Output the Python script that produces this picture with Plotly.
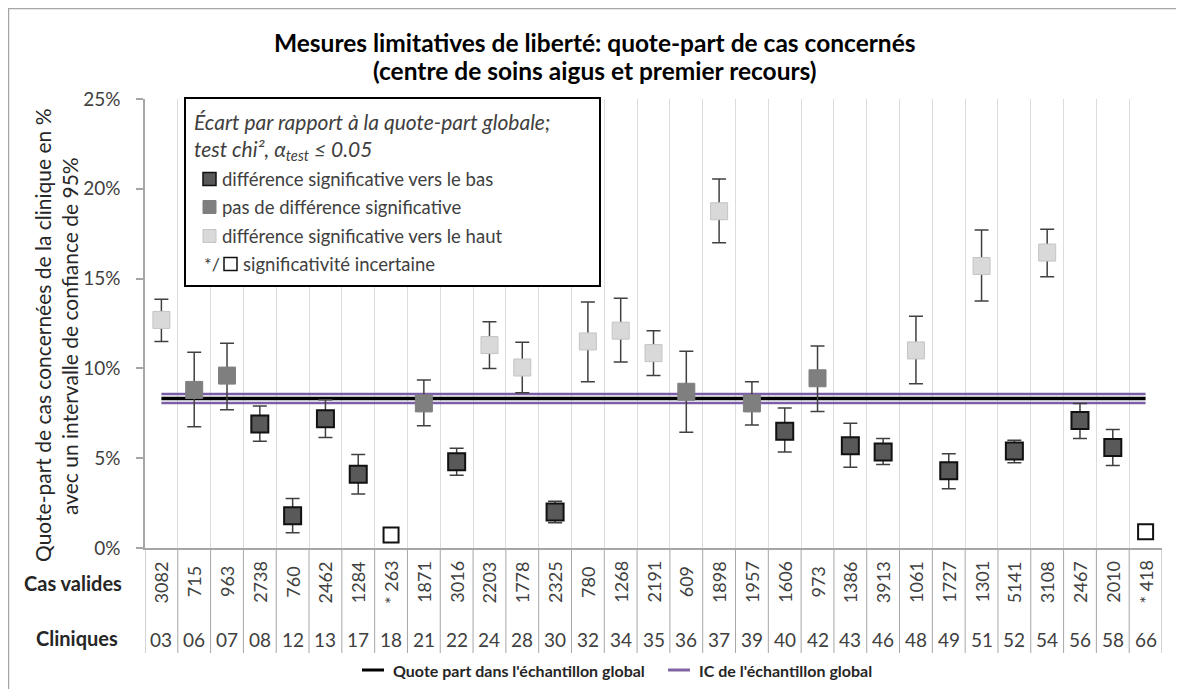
import plotly.graph_objects as go

# ---------------- data ----------------
clinics = ["03","06","07","08","12","13","17","18","21","22","24","28","30","32","34","35",
           "36","37","39","40","42","43","46","48","49","51","52","54","56","58","66"]
cases = ["3082","715","963","2738","760","2462","1284","* 263","1871","3016","2203","1778",
         "2325","780","1268","2191","609","1898","1957","1606","973","1386","3913","1061",
         "1727","1301","5141","3108","2467","2010","* 418"]
pct = [12.7, 8.8, 9.6, 6.9, 1.8, 7.2, 4.1, 0.72, 8.05, 4.8, 11.3, 10.05, 2.0, 11.5, 12.1, 10.85,
       8.7, 18.75, 8.05, 6.5, 9.45, 5.7, 5.35, 11.0, 4.3, 15.7, 5.4, 16.45, 7.1, 5.6, 0.9]
ci_hi = [13.85, 10.9, 11.4, 7.9, 2.75, 8.25, 5.2, None, 9.35, 5.55, 12.6, 11.45, 2.6, 13.7, 13.9, 12.1,
         10.95, 20.55, 9.25, 7.8, 11.25, 6.95, 6.1, 12.9, 5.25, 17.7, 6.0, 17.75, 8.05, 6.6, None]
ci_lo = [11.5, 6.75, 7.7, 5.95, 0.85, 6.15, 3.0, None, 6.8, 4.05, 10.0, 8.65, 1.4, 9.25, 10.35, 9.6,
         6.45, 17.0, 6.85, 5.35, 7.6, 4.5, 4.65, 9.15, 3.3, 13.75, 4.75, 15.1, 6.1, 4.6, None]
group = ["high","ns","ns","low","low","low","low","unc","ns","low","high","high","low","high","high","high",
         "ns","high","ns","low","ns","low","low","high","low","high","low","high","low","low","unc"]
global_rate = 8.32
global_ci = [8.07, 8.57]
y_ticks = [0, 5, 10, 15, 20, 25]

# ---------------- geometry helpers (page pixel coords) ----------------
PAGE_W, PAGE_H = 1184, 689
OFF = 8                      # default body margin of the html page
W_FIG, H_FIG = PAGE_W - OFF, PAGE_H - OFF
L, R, T, B = 145, 1162, 99, 548
PW, PH = R - L, B - T

def px(x):
    return (x - L) / PW

def py(y):
    return (B - y) / PH

FONT = "Lato"
TXT = "#404040"
DARK = "#262626"

styles = {
    "low":  dict(fill="#595959", line="#111111", lw=2),
    "ns":   dict(fill="#7f7f7f", line="#7f7f7f", lw=1),
    "high": dict(fill="#d9d9d9", line="#c4c4c4", lw=1),
    "unc":  dict(fill="#ffffff", line="#111111", lw=2),
}

fig = go.Figure()
n = len(clinics)
xs = list(range(n))

# global lines
for v in global_ci:
    fig.add_trace(go.Scatter(x=[0, n - 1], y=[v, v], mode="lines",
                             line=dict(color="#7b5ea7", width=2.5), hoverinfo="skip", showlegend=False))
fig.add_trace(go.Scatter(x=[0, n - 1], y=[global_rate, global_rate], mode="lines",
                         line=dict(color="#000000", width=3.5), hoverinfo="skip", showlegend=False))

for g in ["low", "ns", "high", "unc"]:
    idx = [i for i in xs if group[i] == g]
    st = styles[g]
    ex = None
    if g != "unc":
        ex = dict(type="data", symmetric=False,
                  array=[ci_hi[i] - pct[i] for i in idx],
                  arrayminus=[pct[i] - ci_lo[i] for i in idx],
                  color="#404040", thickness=1.5, width=7)
    fig.add_trace(go.Scatter(
        x=idx, y=[pct[i] for i in idx], mode="markers",
        marker=dict(symbol="square", size=17 if g != "unc" else 15, color=st["fill"],
                    line=dict(color=st["line"], width=st["lw"])),
        error_y=ex, showlegend=False))

shapes = []
# table vertical lines
for i in range(n + 1):
    shapes.append(dict(type="line", xref="x", yref="paper", x0=i - 0.5, x1=i - 0.5,
                       y0=0, y1=py(653), line=dict(color="#a6a6a6", width=1)))
# outer border
shapes.append(dict(type="line", xref="paper", yref="paper", x0=px(8), x1=px(1190), y0=py(8.5), y1=py(8.5),
                   line=dict(color="#a6a6a6", width=1.5)))
shapes.append(dict(type="line", xref="paper", yref="paper", x0=px(8.5), x1=px(8.5), y0=py(8), y1=py(700),
                   line=dict(color="#a6a6a6", width=1.5)))
# legend box
shapes.append(dict(type="rect", xref="paper", yref="paper", x0=px(185), x1=px(600), y0=py(98), y1=py(286),
                   line=dict(color="#000000", width=2), fillcolor="#ffffff", layer="above"))
# legend squares
leg_items = [("low", 179, 203, "différence significative vers le bas", 220),
             ("ns", 207, 203, "pas de différence significative", 220),
             ("high", 236, 203, "différence significative vers le haut", 220),
             ("unc", 264, 224, "significativité incertaine", 241)]
ann = []
for g, yy, x0, label, tx in leg_items:
    st = styles[g]
    shapes.append(dict(type="rect", xref="paper", yref="paper", x0=px(x0), x1=px(x0 + 13),
                       y0=py(yy - 6.5), y1=py(yy + 6.5), fillcolor=st["fill"],
                       line=dict(color=st["line"], width=1.5 if st["lw"] > 1 else 1), layer="above"))
    ann.append(dict(text=label, x=px(tx), y=py(yy), xref="paper", yref="paper", xanchor="left",
                    yanchor="middle", showarrow=False, font=dict(family=FONT, size=18.5, color=TXT)))
ann.append(dict(text="*/", x=px(202), y=py(264), xref="paper", yref="paper", xanchor="left",
                yanchor="middle", showarrow=False, font=dict(family=FONT, size=18, color=TXT)))
ann.append(dict(text="<i>Écart par rapport à la quote-part globale;</i>", x=px(192), y=py(122),
                xref="paper", yref="paper", xanchor="left", yanchor="middle", showarrow=False,
                font=dict(family=FONT, size=21, color=TXT)))
ann.append(dict(text="<i>test chi², α<sub>test</sub> ≤ 0.05</i>", x=px(192), y=py(150),
                xref="paper", yref="paper", xanchor="left", yanchor="middle", showarrow=False,
                font=dict(family=FONT, size=21, color=TXT)))

# bottom legend
shapes.append(dict(type="line", xref="paper", yref="paper", x0=px(362), x1=px(384), y0=py(670), y1=py(670),
                   line=dict(color="#000000", width=3)))
shapes.append(dict(type="line", xref="paper", yref="paper", x0=px(668), x1=px(690), y0=py(670), y1=py(670),
                   line=dict(color="#8064a2", width=3)))
ann.append(dict(text="<b>Quote part dans l'échantillon global</b>", x=px(391), y=py(670), xref="paper",
                yref="paper", xanchor="left", yanchor="middle", showarrow=False,
                font=dict(family=FONT, size=16, color=DARK)))
ann.append(dict(text="<b>IC de l'échantillon global</b>", x=px(697), y=py(670), xref="paper",
                yref="paper", xanchor="left", yanchor="middle", showarrow=False,
                font=dict(family=FONT, size=16, color=DARK)))

# table text
for i in xs:
    ann.append(dict(text=cases[i], x=i, y=py(582), xref="x", yref="paper", textangle=-90,
                    xanchor="center", yanchor="middle", showarrow=False,
                    font=dict(family=FONT, size=18, color=TXT)))
    ann.append(dict(text=clinics[i], x=i, y=py(639), xref="x", yref="paper",
                    xanchor="center", yanchor="middle", showarrow=False,
                    font=dict(family=FONT, size=19, color=TXT)))
ann.append(dict(text="<b>Cas valides</b>", x=px(73), y=py(583), xref="paper", yref="paper",
                xanchor="center", yanchor="middle", showarrow=False,
                font=dict(family=FONT, size=20, color=DARK)))
ann.append(dict(text="<b>Cliniques</b>", x=px(77), y=py(638), xref="paper", yref="paper",
                xanchor="center", yanchor="middle", showarrow=False,
                font=dict(family=FONT, size=20, color=DARK)))

# titles
ann.append(dict(text="<b>Mesures limitatives de liberté: quote-part de cas concernés</b>", x=px(595), y=py(42),
                xref="paper", yref="paper", xanchor="center", yanchor="middle", showarrow=False,
                font=dict(family=FONT, size=24.5, color="#000000")))
ann.append(dict(text="<b>(centre de soins aigus et premier recours)</b>", x=px(595), y=py(70),
                xref="paper", yref="paper", xanchor="center", yanchor="middle", showarrow=False,
                font=dict(family=FONT, size=24.5, color="#000000")))
ann.append(dict(text="Quote-part de cas concernées de la clinique en %", x=px(42), y=py(336),
                xref="paper", yref="paper", textangle=-90, xanchor="center", yanchor="middle",
                showarrow=False, font=dict(family=FONT, size=21, color=DARK)))
ann.append(dict(text="avec un intervalle de confiance de 95%", x=px(69), y=py(336),
                xref="paper", yref="paper", textangle=-90, xanchor="center", yanchor="middle",
                showarrow=False, font=dict(family=FONT, size=21, color=DARK)))

fig.update_layout(
    width=W_FIG, height=H_FIG,
    margin=dict(l=L - OFF, r=PAGE_W - R, t=T - OFF, b=PAGE_H - B, pad=0),
    paper_bgcolor="#ffffff", plot_bgcolor="#ffffff",
    shapes=shapes, annotations=ann, showlegend=False,
    font=dict(family=FONT),
    xaxis=dict(range=[-0.5, n - 0.5], tickvals=[i - 0.5 for i in range(n + 1)], showticklabels=False,
               ticks="", showgrid=True, gridcolor="#dcdcdc", gridwidth=1, zeroline=False,
               showline=True, linecolor="#a6a6a6", linewidth=1.5, fixedrange=True),
    yaxis=dict(range=[0, 25], tickvals=y_ticks, ticktext=[f"{v}%" for v in y_ticks],
               showgrid=False, zeroline=False, showline=True, linecolor="#a6a6a6", linewidth=1.5,
               ticks="outside", ticklen=7, tickcolor="#a6a6a6", tickwidth=1.5,
               ticklabelstandoff=12,
               tickfont=dict(family=FONT, size=19, color=TXT), fixedrange=True),
)

fig.write_html("out.html")
